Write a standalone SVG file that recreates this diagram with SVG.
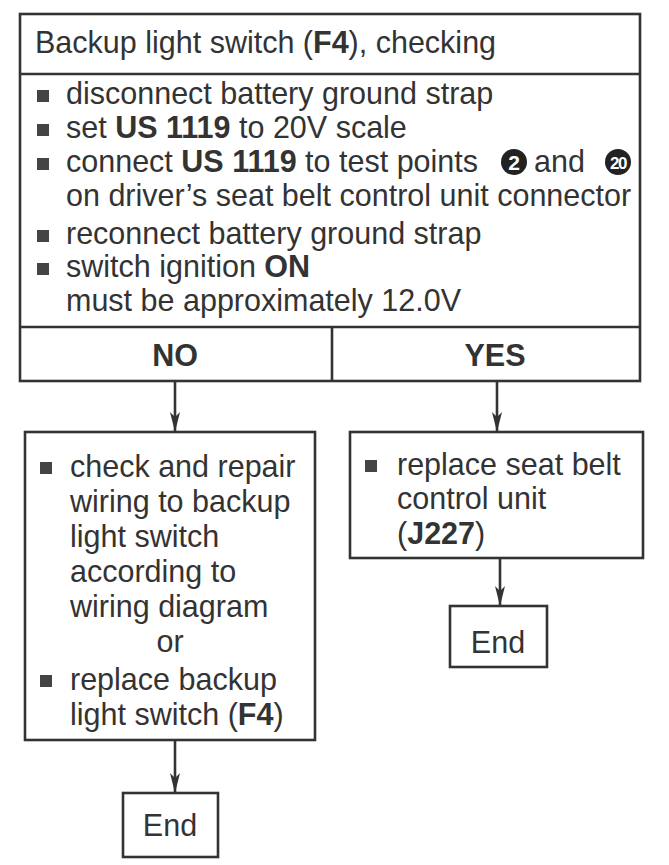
<svg xmlns="http://www.w3.org/2000/svg" width="669" height="865" viewBox="0 0 669 865">
<style>
.t{font-family:"Liberation Sans",Arial,sans-serif;font-size:30.5px;fill:#333}
.b{font-weight:bold}
.box{fill:none;stroke:#333;stroke-width:2.6}
.sq{fill:#444}
.ln{stroke:#333;stroke-width:2.6;fill:none}
.num{font-family:"Liberation Sans",Arial,sans-serif;font-weight:bold;fill:#fff;text-anchor:middle}
</style>
<defs>
<marker id="ah" markerWidth="20" markerHeight="10" refX="20" refY="5" orient="auto" markerUnits="userSpaceOnUse" viewBox="0 0 20 10">
<path d="M0,0 L20,5 L0,10 L5,5 Z" fill="#333"/>
</marker>
</defs>
<rect width="669" height="865" fill="#fff"/>
<g id="check">
<rect class="box" x="20" y="14" width="620" height="367"/>
<line class="ln" x1="20" y1="74" x2="640" y2="74"/>
<text class="t" x="35" y="53">Backup light switch (<tspan class="b">F4</tspan>), checking</text>
<rect class="sq" x="37" y="90" width="12" height="12"/>
<text class="t" x="66" y="104">disconnect battery ground strap</text>
<rect class="sq" x="37" y="124" width="12" height="12"/>
<text class="t" x="66" y="138">set <tspan class="b">US 1119</tspan> to 20V scale</text>
<rect class="sq" x="37" y="158" width="12" height="12"/>
<text class="t" x="66" y="172">connect <tspan class="b">US 1119</tspan> to test points</text>
<circle cx="514" cy="162" r="13" fill="#222"/>
<text class="num" x="514" y="170" font-size="21">2</text>
<text class="t" x="534" y="172">and</text>
<circle cx="618" cy="162" r="13" fill="#222"/>
<text class="num" x="618" y="169" font-size="17" letter-spacing="-1.5">20</text>
<text class="t" x="66" y="206">on driver’s seat belt control unit connector</text>
<rect class="sq" x="37" y="230" width="12" height="12"/>
<text class="t" x="66" y="244">reconnect battery ground strap</text>
<rect class="sq" x="37" y="263" width="12" height="12"/>
<text class="t" x="66" y="277">switch ignition <tspan class="b">ON</tspan></text>
<text class="t" x="66" y="311">must be approximately 12.0V</text>
<line class="ln" x1="20" y1="327" x2="640" y2="327"/>
<line class="ln" x1="332" y1="327" x2="332" y2="381"/>
<text class="t b" x="175" y="366" text-anchor="middle">NO</text>
<text class="t b" x="495" y="366" text-anchor="middle">YES</text>
</g>
<g id="repair">
<rect class="box" x="25" y="432" width="290" height="308"/>
<rect class="sq" x="40" y="462" width="12" height="12"/>
<text class="t" x="70" y="477">check and repair</text>
<text class="t" x="70" y="512">wiring to backup</text>
<text class="t" x="70" y="547">light switch</text>
<text class="t" x="70" y="582">according to</text>
<text class="t" x="70" y="617">wiring diagram</text>
<text class="t" x="170" y="652" text-anchor="middle">or</text>
<rect class="sq" x="40" y="675" width="12" height="12"/>
<text class="t" x="70" y="690">replace backup</text>
<text class="t" x="70" y="725">light switch (<tspan class="b">F4</tspan>)</text>
</g>
<g id="replace">
<rect class="box" x="350" y="432" width="293" height="126"/>
<rect class="sq" x="365" y="460" width="12" height="12"/>
<text class="t" x="397" y="475">replace seat belt</text>
<text class="t" x="397" y="509">control unit</text>
<text class="t" x="397" y="544">(<tspan class="b">J227</tspan>)</text>
</g>
<g id="end1">
<rect class="box" x="450" y="606" width="97" height="61"/>
<text class="t" x="498" y="653" text-anchor="middle">End</text>
</g>
<g id="end2">
<rect class="box" x="123" y="793" width="95" height="64"/>
<text class="t" x="170" y="836" text-anchor="middle">End</text>
</g>
<g id="connectors">
<line class="ln" x1="175" y1="381" x2="175" y2="432" marker-end="url(#ah)"/>
<line class="ln" x1="497" y1="381" x2="497" y2="432" marker-end="url(#ah)"/>
<line class="ln" x1="500" y1="558" x2="500" y2="606" marker-end="url(#ah)"/>
<line class="ln" x1="175" y1="740" x2="175" y2="793" marker-end="url(#ah)"/>
</g>
</svg>
